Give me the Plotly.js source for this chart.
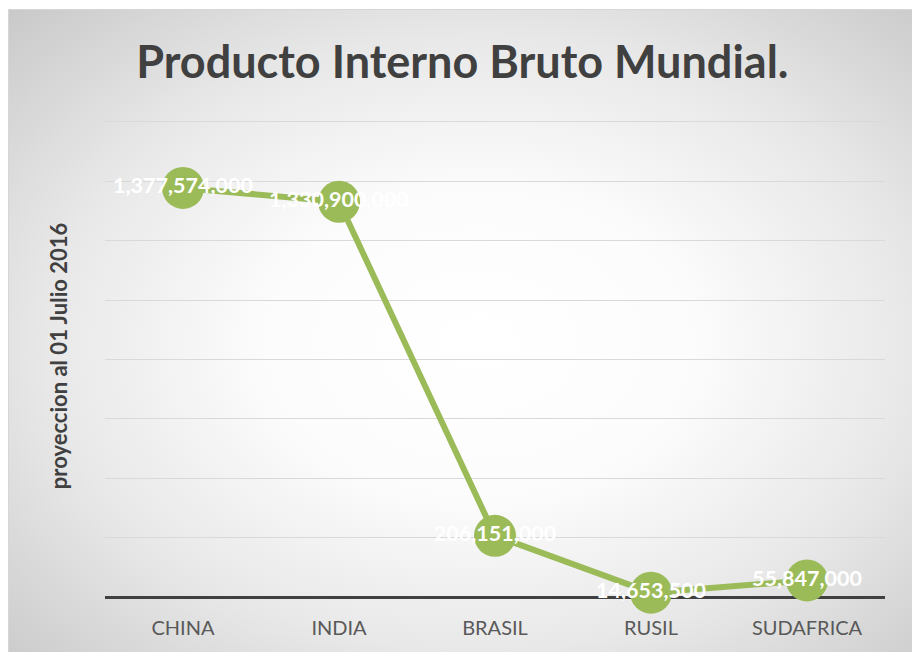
<!DOCTYPE html>
<html>
<head>
<meta charset="utf-8">
<script src="https://cdn.plot.ly/plotly-3.0.1.min.js"></script>
<style>
  html, body { margin: 0; padding: 0; background: #ffffff; width: 912px; height: 652px; overflow: hidden; }
  #bg {
    position: absolute; left: 8px; top: 9px; width: 904px; height: 643px;
    box-sizing: border-box; border-top: 1px solid #d6d6d6; border-left: 1px solid #d6d6d6;
    background: radial-gradient(ellipse farthest-corner at 52% 52%, #ffffff 0%, #fcfcfc 32%, #e8e8e8 65%, #c9c9c9 100%);
  }
  #chart { position: absolute; left: 0; top: 0; width: 912px; height: 652px; }
</style>
</head>
<body>
<div id="bg"></div>
<div id="chart"></div>
<script>
const categories = ["CHINA", "INDIA", "BRASIL", "RUSIL", "SUDAFRICA"];
const values = [1377574000, 1330900000, 206151000, 14653500, 55847000];
const labels = ["1,377,574,000", "1,330,900,000", "206,151,000", "14,653,500", "55,847,000"];
const titleText = "Producto Interno Bruto Mundial.";
const yTitleText = "proyeccion al 01 Julio 2016";

const trace = {
  x: categories,
  y: values,
  text: labels,
  type: "scatter",
  mode: "lines+markers+text",
  line: { color: "#9BBB59", width: 6 },
  marker: { color: "#9BBB59", size: 42 },
  textposition: "middle center",
  textfont: { family: "Lato, 'Open Sans', sans-serif", size: 21.5, color: "#ffffff", weight: "bold" },
  cliponaxis: false,
  hoverinfo: "x+y"
};

const layout = {
  width: 912,
  height: 652,
  paper_bgcolor: "rgba(0,0,0,0)",
  plot_bgcolor: "rgba(0,0,0,0)",
  margin: { l: 105, r: 27, t: 115, b: 55 },
  showlegend: false,
  title: {
    text: "<b>" + titleText + "</b>",
    font: { family: "Lato, 'Open Sans', sans-serif", size: 45, color: "#404040" },
    x: 0.507, xref: "container", xanchor: "center",
    y: 0.905, yref: "container", yanchor: "middle"
  },
  xaxis: {
    type: "category",
    range: [-0.5, 4.5],
    showgrid: false,
    showline: false,
    zeroline: false,
    ticks: "",
    ticklabelstandoff: 17,
    tickfont: { family: "Lato, 'Open Sans', sans-serif", size: 20, color: "#595959" }
  },
  yaxis: {
    range: [0, 1623000000],
    dtick: 200000000,
    tick0: 0,
    showticklabels: false,
    showgrid: true,
    gridcolor: "#d9d9d9",
    gridwidth: 1,
    zeroline: true,
    zerolinecolor: "#404040",
    zerolinewidth: 3,
    showline: false,
    ticks: "",
    title: {
      text: "<b>" + yTitleText + "</b>",
      font: { family: "Lato, 'Open Sans', sans-serif", size: 22, color: "#404040" },
      standoff: 30
    },
    automargin: false
  }
};

Plotly.newPlot("chart", [trace], layout, { displayModeBar: false, staticPlot: true });
</script>
</body>
</html>
